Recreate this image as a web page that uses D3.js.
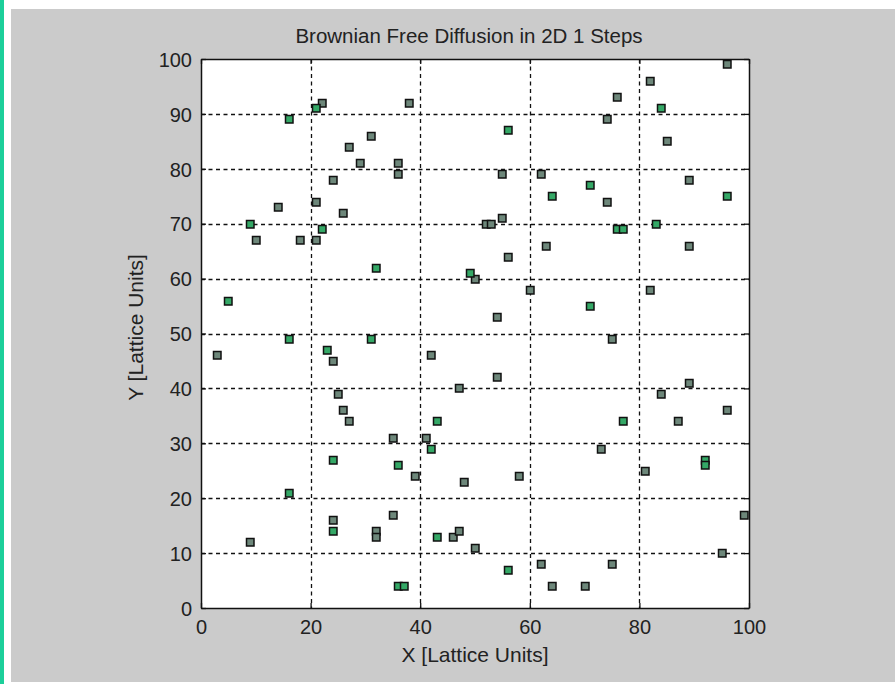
<!DOCTYPE html>
<html>
<head>
<meta charset="utf-8">
<script src="https://d3js.org/d3.v7.min.js"></script>
<style>
  body { margin: 0; background: #fff; }
  svg text { font-family: "Liberation Sans", Arial, sans-serif; fill: #222; }
</style>
</head>
<body>
<div id="chart"></div>
<script>
// particle positions after 1 step (lattice units)
const greenX = [16, 21, 9, 22, 32, 5, 49, 84, 56, 71, 64, 96, 76, 77, 83, 71, 16, 31, 23, 43, 42, 24, 36, 16, 24, 43, 36, 37, 77, 92, 92, 56];
const greenY = [89, 91, 70, 69, 62, 56, 61, 91, 87, 77, 75, 75, 69, 69, 70, 55, 49, 49, 47, 34, 29, 27, 26, 21, 14, 13, 4, 4, 34, 27, 26, 7];

const grayX = [22, 38, 31, 27, 29, 36, 36, 24, 21, 14, 26, 10, 18, 21, 96, 82, 76, 74, 85, 55, 62, 89, 74, 52, 53, 55, 63, 89, 56, 50, 60, 82, 54,
  3, 24, 42, 25, 47, 26, 27, 35, 41, 39, 48, 35, 24, 32, 32, 9, 46, 47, 75, 54, 89, 84, 96, 87, 73, 81, 58, 99, 50, 95, 62, 75, 64, 70];
const grayY = [92, 92, 86, 84, 81, 81, 79, 78, 74, 73, 72, 67, 67, 67, 99, 96, 93, 89, 85, 79, 79, 78, 74, 70, 70, 71, 66, 66, 64, 60, 58, 58, 53,
  46, 45, 46, 39, 40, 36, 34, 31, 31, 24, 23, 17, 16, 14, 13, 12, 13, 14, 49, 42, 41, 39, 36, 34, 29, 25, 24, 17, 11, 10, 8, 8, 4, 4];

const xTicks = [0, 20, 40, 60, 80, 100];
const yTicks = [0, 10, 20, 30, 40, 50, 60, 70, 80, 90, 100];

const W = 895, H = 684;
const margin = { top: 59, right: 146, bottom: 76, left: 201 },
      width = W - margin.left - margin.right,
      height = H - margin.top - margin.bottom;

const root = d3.select("#chart").append("svg")
  .attr("width", W)
  .attr("height", H);

// window frame
root.append("rect").attr("x", 0).attr("y", 0).attr("width", 4).attr("height", H).attr("fill", "#1ccf9a");
root.append("rect").attr("x", 11).attr("y", 9).attr("width", W - 11).attr("height", 673).attr("fill", "#cbcbcb");

const svg = root.append("g")
  .attr("transform", `translate(${margin.left},${margin.top})`);

const x = d3.scaleLinear().domain([0, 100]).range([0, width]);
const y = d3.scaleLinear().domain([0, 100]).range([height, 0]);

svg.append("rect")
  .attr("width", width)
  .attr("height", height)
  .attr("fill", "#fff");

// dashed grid
svg.append("g").selectAll("line")
  .data(xTicks.slice(1, -1))
  .join("line")
  .attr("x1", d => Math.round(x(d)) + 0.5).attr("x2", d => Math.round(x(d)) + 0.5)
  .attr("y1", 0).attr("y2", height)
  .attr("stroke", "#111").attr("stroke-width", 1.3).attr("stroke-dasharray", "4,3.5");

svg.append("g").selectAll("line")
  .data(yTicks.slice(1, -1))
  .join("line")
  .attr("x1", 0).attr("x2", width)
  .attr("y1", d => Math.round(y(d)) + 0.5).attr("y2", d => Math.round(y(d)) + 0.5)
  .attr("stroke", "#111").attr("stroke-width", 1.3).attr("stroke-dasharray", "4,3.5");

// axes with inward ticks
const xAxis = svg.append("g")
  .attr("transform", `translate(0,${height})`)
  .call(d3.axisBottom(x).tickValues(xTicks).tickSizeInner(-5).tickSizeOuter(0).tickPadding(12));
const xTop = svg.append("g")
  .call(d3.axisTop(x).tickValues(xTicks).tickSizeInner(-5).tickSizeOuter(0).tickFormat(""));
const yAxis = svg.append("g")
  .call(d3.axisLeft(y).tickValues(yTicks).tickSizeInner(-5).tickSizeOuter(0).tickPadding(9));
const yRight = svg.append("g")
  .attr("transform", `translate(${width},0)`)
  .call(d3.axisRight(y).tickValues(yTicks).tickSizeInner(-5).tickSizeOuter(0).tickFormat(""));

[xAxis, xTop, yAxis, yRight].forEach(g => {
  g.selectAll("path").attr("stroke", "#111").attr("stroke-width", 1.5);
  g.selectAll("line").attr("stroke", "#111").attr("stroke-width", 1.3);
  g.selectAll("text").attr("font-size", "20px").attr("fill", "#222");
});
yAxis.selectAll("text").attr("dy", "0.36em");

// markers
const drawSeries = (xs, ys, fill) => {
  svg.append("g").selectAll("rect")
    .data(xs.map((v, i) => [v, ys[i]]))
    .join("rect")
    .attr("x", d => Math.round(x(d[0])) - 3.5)
    .attr("y", d => Math.round(y(d[1])) - 3.5)
    .attr("width", 7.5)
    .attr("height", 7.5)
    .attr("fill", fill)
    .attr("stroke", "#111")
    .attr("stroke-width", 1.5);
};
drawSeries(grayX, grayY, "#6d877a");
drawSeries(greenX, greenY, "#34a866");

// titles
svg.append("text")
  .attr("x", width / 2 - 6)
  .attr("y", -16)
  .attr("text-anchor", "middle")
  .attr("font-size", "20.5px")
  .text("Brownian Free Diffusion in 2D 1 Steps");

svg.append("text")
  .attr("x", width / 2)
  .attr("y", height + 54)
  .attr("text-anchor", "middle")
  .attr("font-size", "21px")
  .text("X [Lattice Units]");

svg.append("text")
  .attr("transform", "rotate(-90)")
  .attr("x", -height / 2 + 6)
  .attr("y", -58)
  .attr("text-anchor", "middle")
  .attr("font-size", "21px")
  .text("Y [Lattice Units]");
</script>
</body>
</html>
